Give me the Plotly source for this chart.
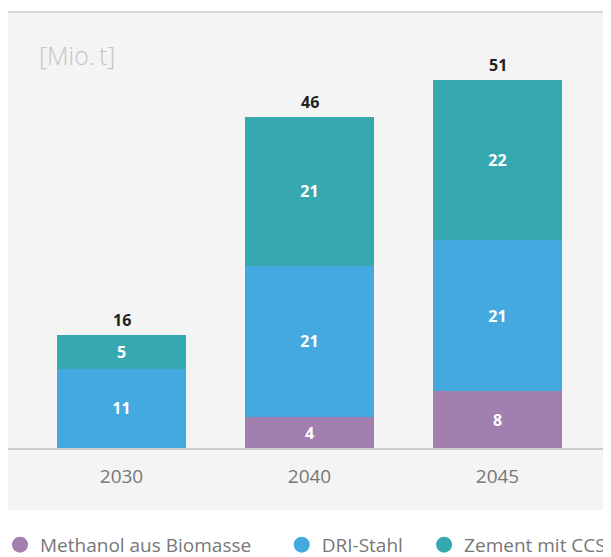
import plotly.graph_objects as go

years = ['2030', '2040', '2045']
methanol = [0, 4.3, 7.9]
dri = [11.0, 21.0, 21.0]
zement = [4.7, 20.7, 22.2]
methanol_lbl = ['', '4', '8']
dri_lbl = ['11', '21', '21']
zement_lbl = ['5', '21', '22']
totals = [15.7, 46.0, 51.1]
totals_lbl = ['16', '46', '51']

names = ['Methanol aus Biomasse', 'DRI-Stahl', 'Zement mit CCS']
colors = ['#a17faf', '#43a9df', '#36a9b0']
legend_ids = ['legend', 'legend2', 'legend3']
legend_x = [-0.0131, 0.448, 0.681]
FONT = 'Open Sans'

fig = go.Figure()
for vals, lbl, name, col, lg in zip([methanol, dri, zement], [methanol_lbl, dri_lbl, zement_lbl],
                                    names, colors, legend_ids):
    fig.add_trace(go.Bar(x=years, y=vals, text=lbl, name=name, marker_color=col,
                         marker_line_width=0, textposition='inside', insidetextanchor='middle',
                         textfont=dict(color='white', size=16, family=FONT, weight='bold'),
                         showlegend=False, hoverinfo='skip'))
    # legend entry with round marker, one legend per item so spacing can be set
    fig.add_trace(go.Scatter(x=[None], y=[None], mode='markers', name=name, legend=lg,
                             marker=dict(color=col, size=18, symbol='circle')))

# totals above the bars (category index, '2030' would be read as a number)
for i, (tot, lbl) in enumerate(zip(totals, totals_lbl)):
    fig.add_annotation(x=i, y=tot, text='<b>%s</b>' % lbl, showarrow=False, yanchor='bottom',
                       yshift=2, font=dict(color='#222222', size=16, family=FONT))

fig.add_annotation(text='[Mio.\u2009t]', xref='paper', yref='paper', x=0.047, y=0.901,
                   xanchor='left', yanchor='middle', showarrow=False,
                   font=dict(size=25, color='#c4c4c4', family=FONT, weight=300))

leg_style = dict(orientation='h', xanchor='left', y=-0.222, yanchor='middle',
                 font=dict(size=19, color='#777777'), itemsizing='trace', bgcolor='rgba(0,0,0,0)')
fig.update_layout(
    width=611, height=557,
    margin=dict(l=0, r=0, t=4, b=117, autoexpand=False),
    barmode='stack', bargap=0.314,
    paper_bgcolor='white', plot_bgcolor='rgba(0,0,0,0)',
    font=dict(family=FONT, color='#777777'),
    xaxis=dict(type='category', range=[-0.6037, 2.6463], showgrid=False, showline=True,
               linecolor='#cccccc', linewidth=1.5, ticks='', ticklabelstandoff=10,
               tickfont=dict(size=19, color='#777777')),
    yaxis=dict(range=[0, 60.56], visible=False),
    legend=dict(x=legend_x[0], **leg_style),
    legend2=dict(x=legend_x[1], **leg_style),
    legend3=dict(x=legend_x[2], **leg_style),
    shapes=[
        dict(type='rect', xref='paper', yref='paper', x0=0, x1=1, y0=-62 / 436, y1=1,
             fillcolor='#f4f4f4', line_width=0, layer='below'),
        dict(type='line', xref='paper', yref='paper', x0=0, x1=1, y0=1, y1=1,
             line=dict(color='#cccccc', width=1.5)),
    ],
)

fig.write_html('out.html')
